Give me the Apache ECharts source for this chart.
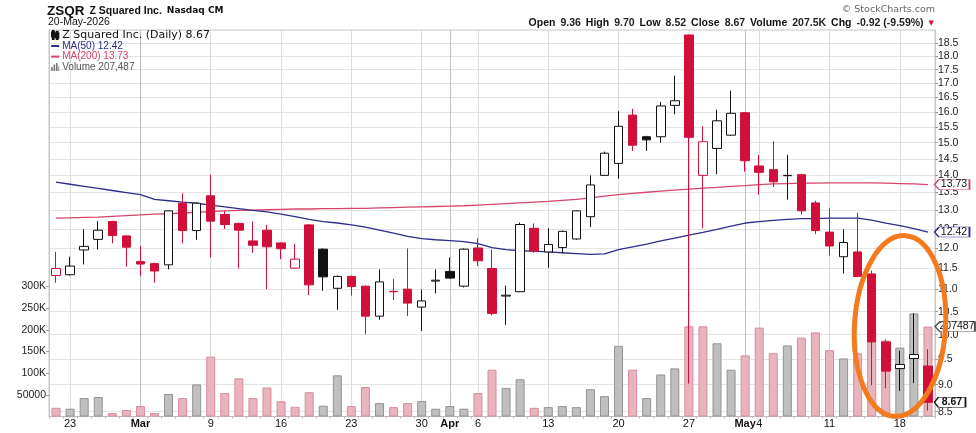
<!DOCTYPE html>
<html><head><meta charset="utf-8">
<script src="https://cdn.jsdelivr.net/npm/echarts@6/dist/echarts.min.js"></script>
<style>html,body{margin:0;padding:0;background:#fff}#c{width:976px;height:433px}</style>
</head><body><div id="c"></div>
<script>
// ---------------- data ----------------
const dates = [
 '2026-02-20',
 '2026-02-23','2026-02-24','2026-02-25','2026-02-26','2026-02-27',
 '2026-03-02','2026-03-03','2026-03-04','2026-03-05','2026-03-06',
 '2026-03-09','2026-03-10','2026-03-11','2026-03-12','2026-03-13',
 '2026-03-16','2026-03-17','2026-03-18','2026-03-19','2026-03-20',
 '2026-03-23','2026-03-24','2026-03-25','2026-03-26','2026-03-27',
 '2026-03-30','2026-03-31','2026-04-01','2026-04-02',
 '2026-04-06','2026-04-07','2026-04-08','2026-04-09','2026-04-10',
 '2026-04-13','2026-04-14','2026-04-15','2026-04-16','2026-04-17',
 '2026-04-20','2026-04-21','2026-04-22','2026-04-23','2026-04-24',
 '2026-04-27','2026-04-28','2026-04-29','2026-04-30','2026-05-01',
 '2026-05-04','2026-05-05','2026-05-06','2026-05-07','2026-05-08',
 '2026-05-11','2026-05-12','2026-05-13','2026-05-14','2026-05-15',
 '2026-05-18','2026-05-19','2026-05-20'
];
const open  = [11.33,11.35,11.96,12.23,12.70,12.32,11.67,11.62,11.59,13.20,12.46,13.41,12.89,12.65,12.19,12.47,12.14,11.51,12.61,11.98,11.03,11.31,11.08,10.40,10.96,11.01,10.60,11.20,11.43,11.08,12.01,11.50,10.85,10.95,12.52,11.91,12.02,12.24,12.83,14.00,14.36,15.90,15.19,15.19,16.23,18.83,14.00,14.82,15.24,15.98,14.28,14.17,13.99,14.02,13.21,12.42,11.79,11.91,11.37,9.85,9.31,9.51,9.36];
const high  = [11.91,11.79,12.49,12.71,12.72,12.34,12.06,11.64,13.00,13.48,13.22,14.02,12.99,12.67,12.70,12.61,12.15,12.11,12.63,12.00,11.33,11.33,11.10,11.48,11.25,12.00,11.00,11.48,11.77,12.00,12.26,11.97,11.09,12.67,12.65,12.52,12.46,13.00,14.00,14.72,16.03,16.11,15.22,16.35,17.28,18.85,15.53,16.08,16.74,16.00,14.62,15.05,14.62,14.05,13.27,13.06,12.49,12.94,11.45,9.90,9.67,10.46,9.70];
const low   = [11.16,11.33,11.60,11.97,12.13,11.55,11.32,11.16,11.48,12.13,12.22,11.77,12.50,11.50,11.89,11.01,11.73,11.50,10.87,10.97,10.54,10.86,10.01,10.32,10.76,10.40,10.08,10.91,11.25,11.05,11.56,10.42,10.21,10.94,11.89,11.52,11.87,12.22,12.55,13.98,13.90,14.74,14.74,15.00,15.93,9.02,12.52,14.03,15.22,14.11,13.44,13.66,13.30,12.90,12.37,11.82,11.38,11.29,8.99,8.93,8.88,9.03,8.52];
const close = [11.50,11.56,12.05,12.47,12.33,12.03,11.61,11.44,12.99,12.46,13.20,12.71,12.62,12.47,12.08,12.04,11.99,11.73,11.11,11.30,11.31,11.07,10.40,11.18,10.95,10.69,10.74,11.22,11.27,11.98,11.69,10.46,10.87,12.62,11.93,12.10,12.44,12.99,13.72,14.67,15.53,14.92,15.09,16.21,16.39,15.17,15.03,15.71,15.96,14.44,14.09,13.81,14.00,12.99,12.46,12.06,12.15,11.31,9.85,9.26,9.39,9.59,8.67];
const volume = [20000,18000,42500,45000,8000,15000,24000,8000,52000,42500,74000,138000,54000,88000,42500,67000,35000,22500,56000,25000,95000,24000,68000,31000,21600,31000,35600,18000,24000,18000,54000,108000,66000,86000,20000,21600,24000,21600,63000,47000,163000,108000,42500,97000,111000,208000,208000,169000,108000,141000,205000,146000,164000,182000,194000,153000,134000,146000,200000,175000,159000,238000,207487];
const ma50  = [13.80,13.74,13.68,13.62,13.56,13.50,13.44,13.31,13.27,13.23,13.20,13.15,13.10,13.05,13.00,12.96,12.90,12.83,12.76,12.70,12.66,12.61,12.55,12.47,12.39,12.31,12.25,12.22,12.20,12.17,12.12,12.02,11.97,11.94,11.93,11.91,11.89,11.87,11.85,11.86,11.97,12.04,12.11,12.19,12.26,12.34,12.41,12.49,12.58,12.66,12.70,12.73,12.76,12.78,12.78,12.79,12.79,12.79,12.74,12.66,12.59,12.51,12.42];
const ma200 = [12.79,12.80,12.81,12.82,12.84,12.86,12.88,12.90,12.91,12.93,12.95,12.97,12.99,13.00,13.01,13.02,13.03,13.04,13.04,13.05,13.05,13.06,13.06,13.07,13.08,13.09,13.10,13.11,13.12,13.13,13.15,13.17,13.19,13.21,13.23,13.25,13.28,13.31,13.35,13.40,13.44,13.48,13.51,13.54,13.57,13.60,13.63,13.65,13.68,13.70,13.73,13.75,13.76,13.77,13.77,13.78,13.78,13.78,13.78,13.77,13.76,13.75,13.73];
const priorClose = 11.80; // close of the session before the first shown (estimated, above 11.50)
const priceTicks = [8.5,9.0,9.5,10.0,10.5,11.0,11.5,12.0,12.5,13.0,13.5,14.0,14.5,15.0,15.5,16.0,16.5,17.0,17.5,18.0,18.5];
const volTicks = [50000,100000,150000,200000,250000,300000];
const volTickTexts = ['50000','100K','150K','200K','250K','300K'];
const tickDates = ['2026-02-23','2026-03-02','2026-03-09','2026-03-16','2026-03-23','2026-03-30','2026-04-01','2026-04-06','2026-04-13','2026-04-20','2026-04-27','2026-05-01','2026-05-04','2026-05-11','2026-05-18'];
const tickTexts = ['23','Mar','9','16','23','30','Apr','6','13','20','27','May','4','11','18'];

// ---------------- styling ----------------
const FONT = 'Liberation Sans';
const RED = '#d0103a', BLK = '#111';
const BLUE = '#2c2c8c', MARED = '#d4456a';
const last = dates.length - 1;
const tickIdx = new Map(tickDates.map((d, k) => [dates.indexOf(d), tickTexts[k]]));
const monthIdx = new Set([...tickIdx].filter(([i, t]) => isNaN(+t)).map(([i]) => i));

const candles = dates.map((d, i) => {
  const prev = i ? close[i - 1] : priorClose;
  const c = close[i] >= prev ? BLK : RED;
  const fill = close[i] > open[i] ? '#fff' : c;
  return { value: [open[i], close[i], low[i], high[i]],
    itemStyle: { color: fill, color0: fill, borderColor: c, borderColor0: c, borderWidth: 1 } };
});
const vols = dates.map((d, i) => {
  const prev = i ? close[i - 1] : priorClose;
  const up = close[i] >= prev;
  return { value: volume[i], itemStyle: up
    ? { color: '#bfbfbf', borderColor: '#939393', borderWidth: 1 }
    : { color: '#e8b4bd', borderColor: '#d88c9b', borderWidth: 1 } };
});

function tag(yVal, text, border, w, off, bold) {
  return {
    silent: true,
    symbol: 'path://M0,5 L5,0 L40,0 L40,10 L5,10 Z',
    symbolSize: [w, 10], symbolOffset: [off, 0],
    itemStyle: { color: '#fff', borderColor: border, borderWidth: 1 },
    label: { show: true, position: 'inside', offset: [2, 0], formatter: text,
      color: '#111', fontSize: 10.5, fontFamily: FONT, fontWeight: bold ? 'bold' : 'normal' },
    data: [{ coord: [dates[last], yVal], value: yVal }]
  };
}

const chg = close[last] - close[last - 1];
const pct = chg / close[last - 1] * 100;
const mon = ['Jan','Feb','Mar','Apr','May','Jun','Jul','Aug','Sep','Oct','Nov','Dec'];
const dp = dates[last].split('-');
const dateText = dp[2] + '-' + mon[+dp[1] - 1] + '-' + dp[0];
const fmtK = v => (v / 1000).toFixed(1) + 'K';

const candleIcon = 'path://M1,0 L2,0 L2,2 L3,2 L3,7 L2,7 L2,10 L1,10 L1,7 L0,7 L0,2 L1,2 Z M6,1 L7,1 L7,3 L8,3 L8,8 L7,8 L7,10 L6,10 L6,8 L5,8 L5,3 L6,3 Z';
const volIcon = 'path://M0,5 L2,5 L2,10 L0,10 Z M3,2 L5,2 L5,10 L3,10 Z M6,0 L8,0 L8,10 L6,10 Z M9,4 L10,4 L10,10 L9,10 Z';
const dashIcon = 'path://M0,0 M0,10 M0,4 L10,4 L10,6.5 L0,6.5 Z';

const chart = echarts.init(document.getElementById('c'));
chart.setOption({
  animation: false,
  backgroundColor: '#fff',
  title: [
    { left: 47, top: 2, padding: 0,
      text: '{a|ZSQR} {b|Z Squared Inc.} {c|Nasdaq CM}',
      textStyle: { rich: {
        a: { fontSize: 13.5, fontWeight: 'bold', fontFamily: FONT, color: '#111' },
        b: { fontSize: 10.5, fontFamily: FONT, color: '#111' },
        c: { fontSize: 9, fontFamily: 'DejaVu Sans', color: '#111' } } } },
    { left: 48, top: 17, padding: 0, text: dateText,
      textStyle: { fontSize: 10.5, fontWeight: 'normal', fontFamily: FONT, color: '#111' } },
    { right: 41, top: 5, padding: 0, text: '© StockCharts.com',
      textStyle: { fontSize: 9.5, fontWeight: 'normal', fontFamily: 'DejaVu Sans', color: '#666' } },
    { right: 42, top: 14.5, padding: 0,
      text: '{l|Open} {v|' + open[last].toFixed(2) + '} {l|High} {v|' + high[last].toFixed(2) +
            '} {l|Low} {v|' + low[last].toFixed(2) + '} {l|Close} {v|' + close[last].toFixed(2) +
            '} {l|Volume} {v|' + fmtK(volume[last]) + '} {l|Chg} {v|' + chg.toFixed(2) +
            ' (' + pct.toFixed(2) + '%)} {t|▼}',
      textStyle: { rich: {
        l: { fontSize: 10.5, fontWeight: 'bold', fontFamily: FONT, color: '#111' },
        v: { fontSize: 10.5, fontFamily: FONT, color: '#222' },
        t: { fontSize: 7, fontFamily: 'DejaVu Sans', color: RED } } } }
  ],
  legend: {
    orient: 'vertical', left: 51, top: 29.5, padding: 0, itemGap: 0,
    itemWidth: 10, itemHeight: 8, selectedMode: false,
    textStyle: { fontFamily: FONT, fontSize: 10, lineHeight: 10.6, padding: [0, 0, 0, -3] },
    formatter: name => {
      if (name === 'MA(50)') return name + ' ' + ma50[last].toFixed(2);
      if (name === 'MA(200)') return name + ' ' + ma200[last].toFixed(2);
      if (name === 'Volume') return name + ' ' + volume[last].toLocaleString('en-US');
      return name + ' ' + close[last].toFixed(2);
    },
    data: [
      { name: 'Z Squared Inc. (Daily)', icon: candleIcon, itemStyle: { color: '#222' },
        textStyle: { fontFamily: 'DejaVu Sans', fontSize: 11, color: '#111' } },
      { name: 'MA(50)', icon: dashIcon, itemStyle: { color: BLUE }, textStyle: { color: BLUE } },
      { name: 'MA(200)', icon: dashIcon, itemStyle: { color: MARED }, textStyle: { color: MARED } },
      { name: 'Volume', icon: volIcon, itemStyle: { color: '#777' }, textStyle: { color: '#555' } }
    ]
  },
  grid: { left: 49, right: 41, top: 30, bottom: 16.5, show: true, borderColor: '#c6c6c6', borderWidth: 1 },
  xAxis: [
    { type: 'category', data: dates, boundaryGap: true,
      axisLine: { lineStyle: { color: '#bbb' } },
      axisTick: { show: true, interval: 0, length: 2, lineStyle: { color: '#bbb' } },
      axisLabel: { interval: i => tickIdx.has(i), margin: 2, fontSize: 11, fontFamily: FONT, color: '#111',
        formatter: (v, i) => { const t = tickIdx.get(i) || ''; return isNaN(+t) ? '{m|' + t + '}' : t; },
        rich: { m: { fontSize: 11, fontWeight: 'bold', fontFamily: FONT, color: '#111' } } },
      splitLine: { show: true, interval: i => tickIdx.has(i), alignWithLabel: true,
        lineStyle: { color: '#dcdcdc', width: 1 } } },
    { type: 'category', data: dates, boundaryGap: true, position: 'bottom',
      axisLine: { show: false }, axisTick: { show: false }, axisLabel: { show: false },
      splitLine: { show: true, interval: i => monthIdx.has(i), alignWithLabel: true,
        lineStyle: { color: '#c0c0c0', width: 1 } } }
  ],
  yAxis: [
    { type: 'log', logBase: 10, position: 'right', min: 8.414, max: 19.03, scale: true,
      axisLine: { show: true, lineStyle: { color: '#c6c6c6' } },
      axisTick: { show: true, customValues: priceTicks, length: 3, lineStyle: { color: '#999' } },
      axisLabel: { customValues: priceTicks, formatter: v => (+v).toFixed(1), margin: 3,
        fontSize: 10.5, fontFamily: FONT, color: '#222' },
      splitLine: { show: true, lineStyle: { color: '#e4e4e4' } } },
    { type: 'value', position: 'left', min: 0, max: 892000,
      axisLine: { show: true, lineStyle: { color: '#c6c6c6' } },
      axisTick: { show: true, customValues: volTicks, length: 3, lineStyle: { color: '#999' } },
      axisLabel: { customValues: volTicks, formatter: v => volTickTexts[volTicks.indexOf(+v)] || '',
        margin: 3, fontSize: 10.5, fontFamily: FONT, color: '#222' },
      splitLine: { show: false } }
  ],
  series: [
    { name: 'Volume', type: 'bar', xAxisIndex: 0, yAxisIndex: 1, barWidth: 9, z: 1,
      itemStyle: { color: '#999' }, data: vols,
      markPoint: tag(volume[last], String(volume[last]), '#555', 40, 27, false) },
    { name: 'MA(200)', type: 'line', xAxisIndex: 0, yAxisIndex: 0, data: ma200, z: 2,
      symbol: 'none', showSymbol: false, itemStyle: { color: MARED },
      lineStyle: { color: MARED, width: 1.3 },
      markPoint: tag(ma200[last], ma200[last].toFixed(2), MARED, 35, 24, false) },
    { name: 'MA(50)', type: 'line', xAxisIndex: 0, yAxisIndex: 0, data: ma50, z: 2,
      symbol: 'none', showSymbol: false, itemStyle: { color: BLUE },
      lineStyle: { color: BLUE, width: 1.3 },
      markPoint: tag(ma50[last], ma50[last].toFixed(2), BLUE, 35, 24, false) },
    { name: 'Z Squared Inc. (Daily)', type: 'candlestick', xAxisIndex: 0, yAxisIndex: 0,
      barWidth: 9, z: 3, data: candles,
      itemStyle: { color: '#fff', color0: RED, borderColor: BLK, borderColor0: RED },
      markPoint: tag(close[last], close[last].toFixed(2), '#111', 31, 22, true) }
  ],
  graphic: [
    { type: 'ellipse', z: 100, silent: true, x: 900, y: 326, rotation: -0.06,
      shape: { cx: 0, cy: 0, rx: 45.5, ry: 90.5 },
      style: { fill: null, stroke: '#f47a1e', lineWidth: 5 } }
  ]
});
</script>
</body></html>
